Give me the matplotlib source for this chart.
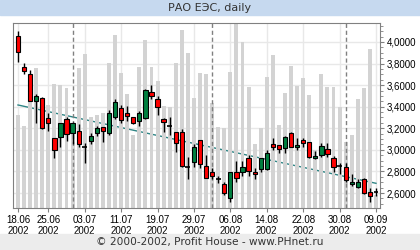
import matplotlib
matplotlib.use('Agg')
import matplotlib.pyplot as plt
import matplotlib.transforms as mtransforms
from matplotlib.ticker import MultipleLocator
import numpy as np
import pandas as pd

# торговые дни 18.06.2002 - 09.09.2002
dates = pd.bdate_range('2002-06-18', '2002-09-09')

opens = [4.056, 3.771, 3.703, 3.450, 3.478, 3.293, 3.108, 3.122, 3.284, 3.159,
         3.175, 3.024, 3.085, 3.154, 3.209, 3.154, 3.308, 3.386, 3.345, 3.302,
         3.271, 3.293, 3.537, 3.472, 3.286, 3.224, 3.163, 3.163, 2.844, 2.891,
         3.092, 2.854, 2.792, 2.730, 2.681, 2.551, 2.798, 2.798, 2.922, 2.798,
         2.820, 2.825, 3.055, 3.045, 3.015, 3.154, 3.024, 3.092, 3.070, 2.922,
         2.953, 3.008, 2.922, 2.854, 2.844, 2.684, 2.659, 2.728, 2.607, 2.607]
highs = [4.102, 3.808, 3.741, 3.518, 3.487, 3.339, 3.110, 3.252, 3.308, 3.261,
         3.240, 3.067, 3.154, 3.222, 3.215, 3.370, 3.472, 3.416, 3.407, 3.308,
         3.363, 3.562, 3.599, 3.500, 3.298, 3.302, 3.169, 3.191, 2.937, 3.055,
         3.092, 2.953, 2.835, 2.761, 2.705, 2.798, 2.897, 2.897, 2.953, 2.829,
         2.928, 2.995, 3.108, 3.045, 3.129, 3.169, 3.108, 3.108, 3.076, 2.993,
         3.061, 3.061, 2.943, 2.881, 2.875, 2.777, 2.728, 2.737, 2.644, 2.644]
lows = [3.817, 3.701, 3.450, 3.252, 3.195, 3.178, 2.928, 3.030, 3.085, 3.055,
        3.030, 2.881, 3.055, 3.129, 3.076, 3.138, 3.284, 3.247, 3.271, 3.240,
        3.222, 3.284, 3.469, 3.323, 3.169, 3.138, 2.983, 2.844, 2.728, 2.844,
        2.829, 2.737, 2.730, 2.690, 2.582, 2.520, 2.705, 2.761, 2.761, 2.730,
        2.798, 2.815, 2.999, 2.974, 2.974, 3.024, 2.999, 3.030, 2.928, 2.913,
        2.937, 2.937, 2.798, 2.777, 2.705, 2.668, 2.644, 2.591, 2.520, 2.576]
closes = [3.905, 3.734, 3.456, 3.500, 3.200, 3.247, 2.999, 3.247, 3.145, 3.252,
          3.052, 3.024, 3.129, 3.206, 3.175, 3.339, 3.441, 3.277, 3.314, 3.247,
          3.339, 3.555, 3.500, 3.395, 3.256, 3.224, 3.061, 2.854, 2.844, 3.024,
          2.869, 2.737, 2.761, 2.730, 2.603, 2.798, 2.737, 2.839, 2.804, 2.774,
          2.928, 2.970, 3.030, 3.005, 3.122, 3.024, 3.045, 3.061, 2.937, 2.946,
          3.036, 2.962, 2.839, 2.854, 2.721, 2.705, 2.700, 2.598, 2.576, 2.607]
# объём (усл. ед.)
volumes = [93, 82, 113, 140, 108, 103, 124, 123, 120, 83,
           140, 154, 91, 93, 95, 145, 173, 135, 114, 73,
           141, 168, 141, 127, 102, 101, 145, 178, 155, 110,
           135, 134, 105, 81, 80, 136, 184, 166, 121, 64,
           80, 131, 153, 83, 115, 142, 122, 130, 113, 58,
           134, 121, 121, 101, 66, 73, 109, 120, 159, 13]
vol_top = 185

trend_start, trend_end = 3.416, 2.690

tick_labels = ['18.06', '25.06', '03.07', '11.07', '19.07', '29.07',
               '06.08', '14.08', '22.08', '30.08', '09.09']

x = np.arange(len(dates))
o = np.array(opens); h = np.array(highs); l = np.array(lows); c = np.array(closes)

fig = plt.figure(figsize=(4.2, 2.5), dpi=100)
fig.patch.set_facecolor('white')

# полоса заголовка и подвал
fig.patches.append(plt.Rectangle((0, 1 - 15/250), 1, 15/250, transform=fig.transFigure,
                                 color='#c6d9ef', zorder=0))
fig.patches.append(plt.Rectangle((0, 0), 1, 16/250, transform=fig.transFigure,
                                 color='#ececec', zorder=0))
fig.text(0.5, 1 - 8/250, 'РАО ЕЭС, daily', ha='center', va='center',
         fontsize=8, color='#333333', family='DejaVu Sans')
fig.text(0.5, 8/250, '© 2000-2002, Profit House - www.PHnet.ru', ha='center', va='center',
         fontsize=7.6, color='#333333', family='DejaVu Sans')

ax = fig.add_axes([13/420, 1 - 208/250, 367/420, 185/250])
ax.set_xlim(-0.82, len(x) - 1 + 0.66)
ax.set_ylim(2.461, 4.176)

# сетка
ax.set_axisbelow(True)
ax.grid(True, color='#e8e8e8', linewidth=1)

# объём - серые столбики снизу
trans = mtransforms.blended_transform_factory(ax.transData, ax.transAxes)
ax.bar(x, np.array(volumes) / vol_top, width=0.65, bottom=0, color='#d3d3d3',
       transform=trans, zorder=1)

# границы месяцев
month_starts = [i for i in range(1, len(dates)) if dates[i].month != dates[i - 1].month]
for i in month_starts:
    ax.axvline(i, color='#808080', linewidth=1, linestyle=(0, (3, 2)), zorder=1.5)

# линия тренда
ax.plot([x[0], x[-1]], [trend_start, trend_end], color='#2f8585', linewidth=1, zorder=0.9)

# свечи
ax.vlines(x, l, h, color='black', linewidth=1, zorder=3)
up = c > o
down = c < o
flat = c == o
ax.bar(x[up], (c - o)[up], bottom=o[up], width=0.7, color='#008040',
       edgecolor='black', linewidth=0.8, zorder=4)
ax.bar(x[down], (o - c)[down], bottom=c[down], width=0.7, color='#ff0000',
       edgecolor='black', linewidth=0.8, zorder=4)
ax.hlines(c[flat], x[flat] - 0.4, x[flat] + 0.4, color='black', linewidth=1.2, zorder=4)

# оси
for s in ax.spines.values():
    s.set_color('#808080')
ax.yaxis.tick_right()
yt = np.arange(2.6, 4.01, 0.2)
ax.set_yticks(yt)
ax.set_yticklabels([f'{v:.4f}'.replace('.', ',') for v in yt])
ax.yaxis.set_minor_locator(MultipleLocator(0.05))
ax.tick_params(axis='y', which='major', length=3, color='#808080', labelsize=7, pad=2)
ax.tick_params(axis='y', which='minor', length=2, color='#808080')

date_str = [d.strftime('%d.%m') for d in dates]
tick_idx = [date_str.index(t) for t in tick_labels]
ax.set_xticks(tick_idx)
ax.set_xticklabels([f'{t}\n2002' for t in tick_labels])
ax.tick_params(axis='x', length=3, color='#808080', labelsize=7, pad=2)
for lab in ax.get_xticklabels() + ax.get_yticklabels():
    lab.set_family('Liberation Sans')
    lab.set_linespacing(1.1)

fig.savefig('out.png', dpi=100)
